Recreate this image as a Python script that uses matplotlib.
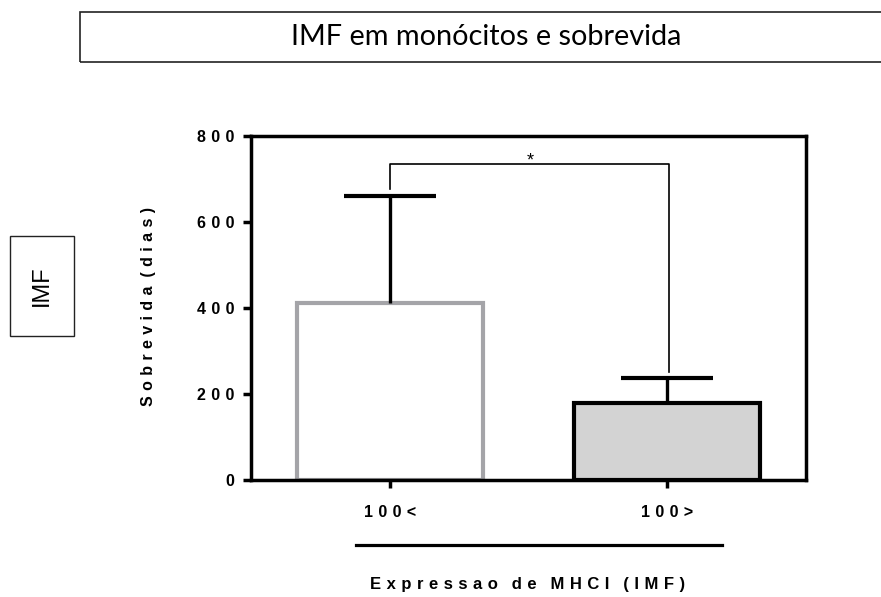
import matplotlib
matplotlib.use("Agg")
import matplotlib.pyplot as plt
from matplotlib.patches import Rectangle
from matplotlib.lines import Line2D

# Data
categories = ["100<", "100>"]
means = [412, 178]
errors = [248, 60]
y_ticks = [0, 200, 400, 600, 800]
bracket_top = 735
bracket_left_bottom = 676
bracket_right_bottom = 251

W, H = 881, 597
DPI = 100
fig = plt.figure(figsize=(W / DPI, H / DPI), dpi=DPI)

SP = "\u2004"


def spaced(s):
    return SP.join(list(s))


FONT = ["Liberation Sans", "DejaVu Sans"]
FS = 11.5


def fx(px):
    return px / W


def fy(py):
    return 1 - py / H


ax = fig.add_axes([fx(251), fy(480), fx(806) - fx(251), fy(136) - fy(480)])

x = [0, 1]
ax.bar(x[0], means[0], width=0.675, color="white", edgecolor="#a4a4a8",
       linewidth=3.0, zorder=2)
ax.bar(x[1], means[1], width=0.675, color="#d3d3d3", edgecolor="black",
       linewidth=3.0, zorder=2)
for xi, m, e in zip(x, means, errors):
    _, caps, _ = ax.errorbar(xi, m, yerr=[[0], [e]], fmt="none", ecolor="black",
                             elinewidth=2.4, capsize=33, capthick=3.0, zorder=3)
    caps[0].set_visible(False)

# significance bracket
ax.plot([0, 0, 1.007, 1.007],
        [bracket_left_bottom, bracket_top, bracket_top, bracket_right_bottom],
        color="black", linewidth=1.2, zorder=4)
ax.text(0.505, bracket_top - 12, "*", ha="center", va="bottom",
        fontsize=13, family=FONT)

ax.set_xlim(-0.502, 1.502)
ax.set_ylim(0, 800)
ax.set_yticks(y_ticks)
ax.set_yticklabels([spaced(str(t)) for t in y_ticks], family=FONT,
                   fontweight="bold", fontsize=FS)
ax.set_xticks(x)
ax.set_xticklabels([spaced(c) for c in categories], family=FONT,
                   fontweight="bold", fontsize=FS)
for s in ax.spines.values():
    s.set_linewidth(2.5)
ax.tick_params(axis="both", width=2.5, length=6, direction="out")
ax.tick_params(axis="y", pad=6)
ax.tick_params(axis="x", pad=12)

fig.text(fx(148), fy(307), spaced("Sobrevida (dias)").replace(SP + " " + SP, "  "),
         rotation=90, ha="center", va="center", family=FONT,
         fontweight="bold", fontsize=FS)

# group line and axis title below
fig.add_artist(Line2D([fx(356), fx(722)], [fy(545), fy(545)],
                      transform=fig.transFigure, color="black", linewidth=2.3))
fig.text(fx(528), fy(585), spaced("Expressao de MHCI (IMF)").replace(SP + " " + SP, "   "),
         ha="center", va="center", family=FONT, fontweight="bold",
         fontsize=12)

# title box
fig.add_artist(Rectangle((fx(80), fy(62)), fx(900) - fx(80), fy(12) - fy(62),
                         transform=fig.transFigure, fill=False,
                         edgecolor="#222222", linewidth=1.2))
fig.text(fx(486), fy(37), "IMF em monócitos e sobrevida", ha="center",
         va="center", family=["Lato", "DejaVu Sans"], fontsize=20.8)

# side box
fig.add_artist(Rectangle((fx(10), fy(336)), fx(74) - fx(10), fy(236) - fy(336),
                         transform=fig.transFigure, fill=False,
                         edgecolor="#222222", linewidth=1.0))
fig.text(fx(42), fy(286), "IMF", rotation=90, ha="center", va="center",
         family=FONT, fontsize=17)

fig.savefig("out.png", dpi=DPI)
